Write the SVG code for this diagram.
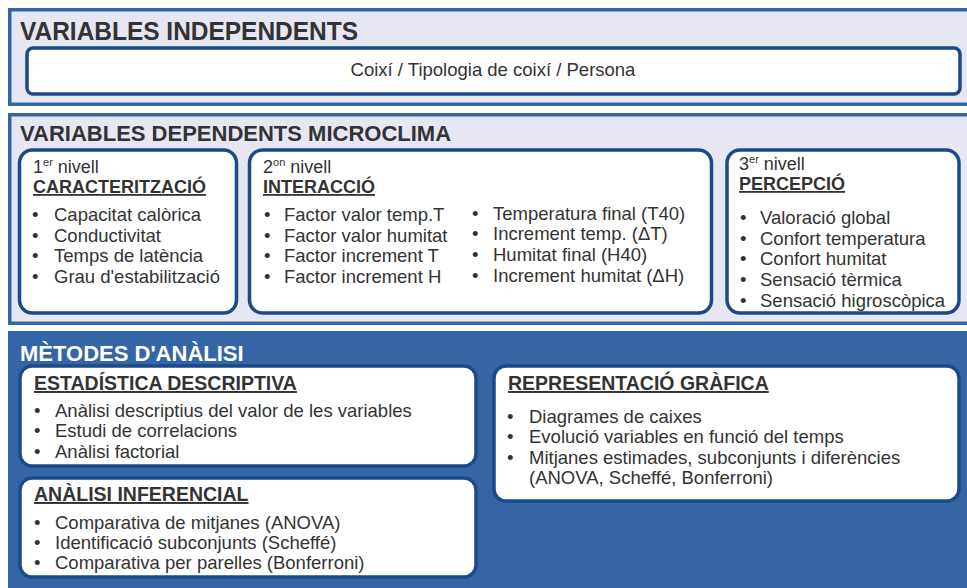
<svg xmlns="http://www.w3.org/2000/svg" width="967" height="588" viewBox="0 0 967 588">
<style>
text{font-family:"Liberation Sans",Arial,sans-serif;fill:#333333}
.sec{fill:#e7e6f3;stroke:#3465a4;stroke-width:3.5}
.sec3{fill:#3465a4}
.box{fill:#ffffff;stroke:#1b4a89;stroke-width:3.5}
.t1{font-size:25px;font-weight:bold}
.t2{font-size:22px;font-weight:bold}
.h{font-size:18px;font-weight:bold;text-decoration:underline}
.h3{font-size:19.5px;font-weight:bold;text-decoration:underline}
.b{font-size:18.5px}
.lv{font-size:18px}
.sup{font-size:11px}
</style>
<g id="sec-independents">
<rect class="sec" x="9.75" y="9.75" width="970" height="94.5"/>
<text class="t1" x="20" y="40" textLength="338" lengthAdjust="spacingAndGlyphs">VARIABLES INDEPENDENTS</text>
</g>
<g id="box-independents">
<rect class="box" x="27" y="48" width="933" height="46" rx="6"/>
<text class="b" x="493" y="76" text-anchor="middle">Coixí / Tipologia de coixí / Persona</text>
</g>
<g id="sec-dependents">
<rect class="sec" x="9.75" y="114.75" width="970" height="208.5"/>
<text class="t2" x="20" y="141">VARIABLES DEPENDENTS MICROCLIMA</text>
</g>
<g id="box-caracteritzacio">
<rect class="box" x="19.5" y="150" width="217" height="163" rx="13"/>
<text class="lv" x="33" y="173">1<tspan class="sup" dy="-7">er</tspan><tspan dy="7"> nivell</tspan></text>
<text class="h" x="33" y="193">CARACTERITZACIÓ</text>
<text class="b"><tspan x="32" y="221">•</tspan><tspan x="54" y="221">Capacitat calòrica</tspan><tspan x="32" y="242">•</tspan><tspan x="54" y="242">Conductivitat</tspan><tspan x="32" y="262">•</tspan><tspan x="54" y="262">Temps de latència</tspan><tspan x="32" y="283">•</tspan><tspan x="54" y="283">Grau d'estabilització</tspan></text>
</g>
<g id="box-interaccio">
<rect class="box" x="249.5" y="150" width="462" height="163" rx="13"/>
<text class="lv" x="263" y="173">2<tspan class="sup" dy="-7">on</tspan><tspan dy="7"> nivell</tspan></text>
<text class="h" x="263" y="193">INTERACCIÓ</text>
<text class="b"><tspan x="264" y="221">•</tspan><tspan x="284" y="221">Factor valor temp.T</tspan><tspan x="264" y="242">•</tspan><tspan x="284" y="242">Factor valor humitat</tspan><tspan x="264" y="262">•</tspan><tspan x="284" y="262">Factor increment T</tspan><tspan x="264" y="283">•</tspan><tspan x="284" y="283">Factor increment H</tspan></text>
<text class="b"><tspan x="472" y="220">•</tspan><tspan x="493" y="220">Temperatura final (T40)</tspan><tspan x="472" y="240">•</tspan><tspan x="493" y="240">Increment temp. (ΔT)</tspan><tspan x="472" y="261">•</tspan><tspan x="493" y="261">Humitat final (H40)</tspan><tspan x="472" y="282">•</tspan><tspan x="493" y="282">Increment humitat (ΔH)</tspan></text>
</g>
<g id="box-percepcio">
<rect class="box" x="727" y="150" width="232" height="163" rx="13"/>
<text class="lv" x="739" y="170">3<tspan class="sup" dy="-7">er</tspan><tspan dy="7"> nivell</tspan></text>
<text class="h" x="739" y="190">PERCEPCIÓ</text>
<text class="b"><tspan x="740" y="224">•</tspan><tspan x="760" y="224">Valoració global</tspan><tspan x="740" y="245">•</tspan><tspan x="760" y="245">Confort temperatura</tspan><tspan x="740" y="265">•</tspan><tspan x="760" y="265">Confort humitat</tspan><tspan x="740" y="286">•</tspan><tspan x="760" y="286">Sensació tèrmica</tspan><tspan x="740" y="307">•</tspan><tspan x="760" y="307">Sensació higroscòpica</tspan></text>
</g>
<g id="sec-metodes">
<rect class="sec3" x="8" y="331" width="962" height="260"/>
<text class="t2" x="20" y="361" style="fill:#ffffff">MÈTODES D'ANÀLISI</text>
</g>
<g id="box-descriptiva">
<rect class="box" x="20" y="366" width="456" height="100" rx="12"/>
<text class="h3" x="34" y="390">ESTADÍSTICA DESCRIPTIVA</text>
<text class="b"><tspan x="34" y="417">•</tspan><tspan x="55" y="417">Anàlisi descriptius del valor de les variables</tspan><tspan x="34" y="437">•</tspan><tspan x="55" y="437">Estudi de correlacions</tspan><tspan x="34" y="458">•</tspan><tspan x="55" y="458">Anàlisi factorial</tspan></text>
</g>
<g id="box-inferencial">
<rect class="box" x="20" y="478" width="456" height="99" rx="12"/>
<text class="h3" x="34" y="501">ANÀLISI INFERENCIAL</text>
<text class="b"><tspan x="34" y="529">•</tspan><tspan x="55" y="529">Comparativa de mitjanes (ANOVA)</tspan><tspan x="34" y="549">•</tspan><tspan x="55" y="549">Identificació subconjunts (Scheffé)</tspan><tspan x="34" y="569">•</tspan><tspan x="55" y="569">Comparativa per parelles (Bonferroni)</tspan></text>
</g>
<g id="box-grafica">
<rect class="box" x="494" y="366" width="465" height="135" rx="12"/>
<text class="h3" x="508" y="390">REPRESENTACIÓ GRÀFICA</text>
<text class="b"><tspan x="507" y="423">•</tspan><tspan x="529" y="423">Diagrames de caixes</tspan><tspan x="507" y="443">•</tspan><tspan x="529" y="443">Evolució variables en funció del temps</tspan><tspan x="507" y="464">•</tspan><tspan x="529" y="464">Mitjanes estimades, subconjunts i diferències</tspan><tspan x="529" y="484">(ANOVA, Scheffé, Bonferroni)</tspan></text>
</g>
</svg>
